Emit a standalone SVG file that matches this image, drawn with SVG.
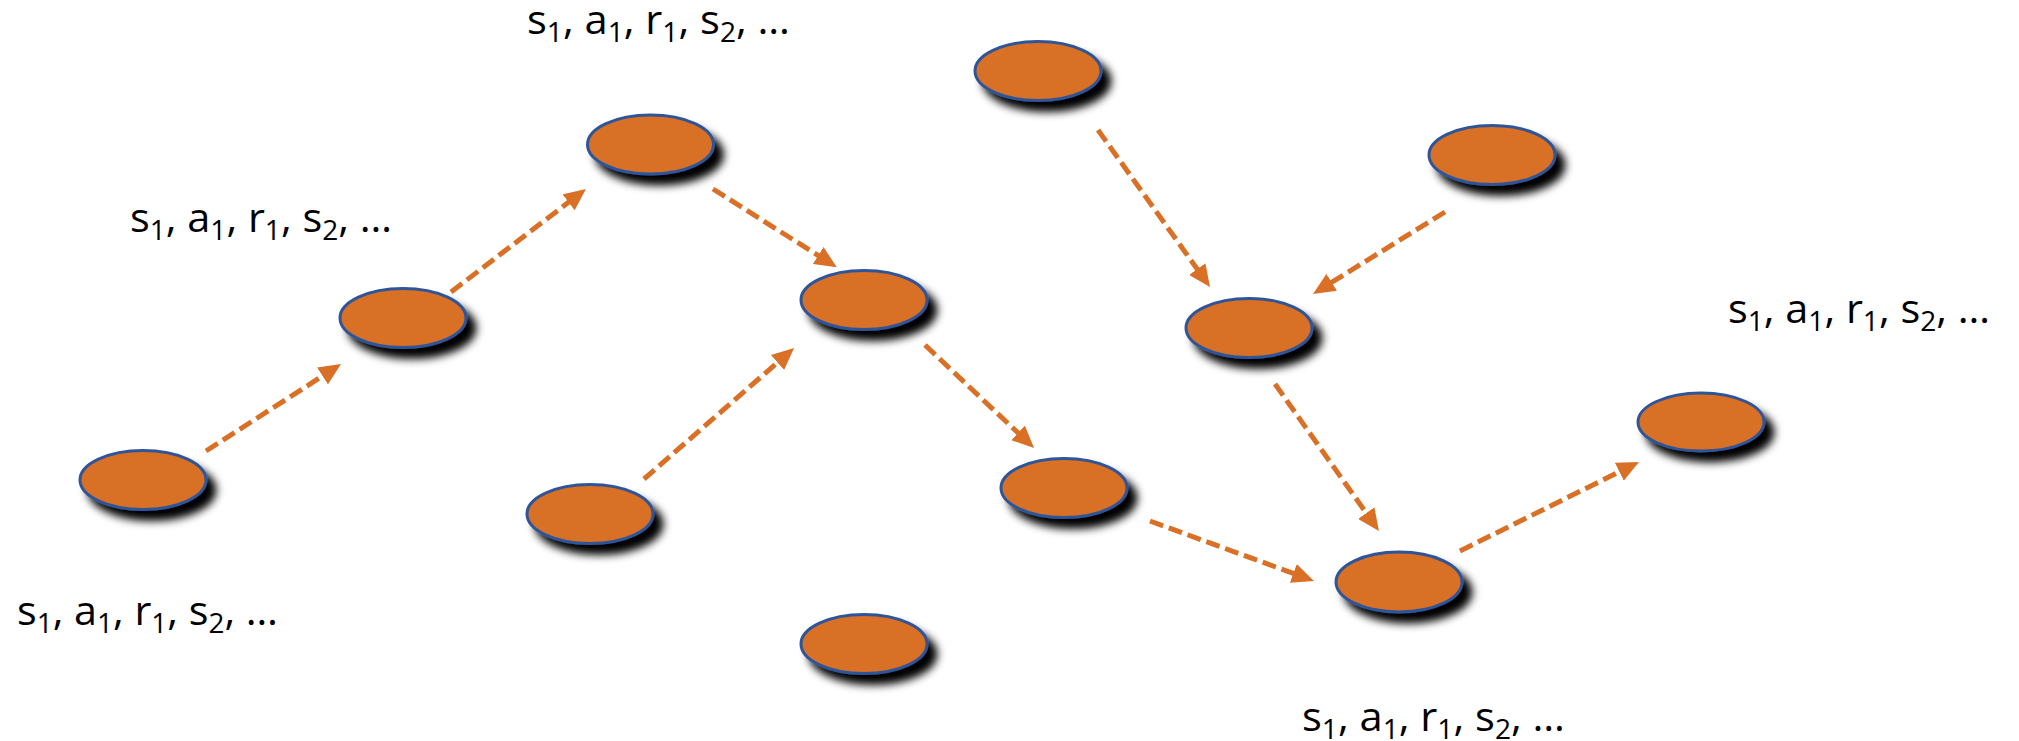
<svg xmlns="http://www.w3.org/2000/svg" width="2019" height="741" viewBox="0 0 2019 741">
<style>
.node{fill:#D86F27;stroke:#2F5597;stroke-width:3;filter:url(#sh)}
.edge{fill:none;stroke:#DA7026;stroke-width:5;stroke-dasharray:14 6;marker-end:url(#ah)}
.lbl{font-family:"Open Sans","Liberation Sans",sans-serif;font-size:40px;fill:#000}
.sb{font-size:27px}
</style>
<defs>
<filter id="sh" x="-30%" y="-40%" width="170%" height="200%">
<feGaussianBlur in="SourceAlpha" stdDeviation="4.5"/>
<feOffset dx="9" dy="10" result="b"/>
<feMerge><feMergeNode in="b"/><feMergeNode in="SourceGraphic"/></feMerge>
</filter>
<marker id="ah" markerUnits="userSpaceOnUse" markerWidth="22" markerHeight="20" viewBox="0 0 22 20" refX="2" refY="10" orient="auto">
<path d="M0,0 L22,10 L0,20 z" fill="#DA7026"/>
</marker>
</defs>
<rect width="2019" height="741" fill="#fff"/>
<g id="connectors">
<line class="edge" x1="206" y1="451" x2="324.2" y2="374.9"/>
<line class="edge" x1="451" y1="292" x2="570.1" y2="201.1"/>
<line class="edge" x1="713" y1="189" x2="819.9" y2="256.6"/>
<line class="edge" x1="644" y1="479" x2="779" y2="361.2"/>
<line class="edge" x1="925" y1="345" x2="1019.5" y2="434.3"/>
<line class="edge" x1="1150" y1="521" x2="1295.2" y2="574.1"/>
<line class="edge" x1="1098" y1="130" x2="1198.4" y2="270.7"/>
<line class="edge" x1="1445" y1="212" x2="1330" y2="283.4"/>
<line class="edge" x1="1275" y1="384" x2="1367.4" y2="514.7"/>
<line class="edge" x1="1460" y1="551" x2="1621.1" y2="470.9"/>
</g>
<g id="n1"><ellipse class="node" cx="143" cy="480" rx="63" ry="29.5"/></g>
<g id="n2"><ellipse class="node" cx="403" cy="318" rx="63" ry="29.5"/></g>
<g id="n3"><ellipse class="node" cx="650.5" cy="144.5" rx="63" ry="29.5"/></g>
<g id="n4"><ellipse class="node" cx="864" cy="300" rx="63" ry="29.5"/></g>
<g id="n5"><ellipse class="node" cx="590" cy="514" rx="63" ry="29.5"/></g>
<g id="n6"><ellipse class="node" cx="1064" cy="488" rx="63" ry="29.5"/></g>
<g id="n7"><ellipse class="node" cx="864" cy="644" rx="63" ry="29.5"/></g>
<g id="n8"><ellipse class="node" cx="1038" cy="71" rx="63" ry="29.5"/></g>
<g id="n9"><ellipse class="node" cx="1492" cy="155" rx="63" ry="29.5"/></g>
<g id="n10"><ellipse class="node" cx="1249" cy="328" rx="63" ry="29.5"/></g>
<g id="n11"><ellipse class="node" cx="1701" cy="422" rx="63" ry="29"/></g>
<g id="n12"><ellipse class="node" cx="1399" cy="582" rx="63" ry="30"/></g>
<g id="labels">
<text class="lbl" x="527" y="34" textLength="263" lengthAdjust="spacingAndGlyphs">s<tspan class="sb" dy="8">1</tspan><tspan dy="-8">, a</tspan><tspan class="sb" dy="8">1</tspan><tspan dy="-8">, r</tspan><tspan class="sb" dy="8">1</tspan><tspan dy="-8">, s</tspan><tspan class="sb" dy="8">2</tspan><tspan dy="-8">, …</tspan></text>
<text class="lbl" x="130" y="232" textLength="262" lengthAdjust="spacingAndGlyphs">s<tspan class="sb" dy="8">1</tspan><tspan dy="-8">, a</tspan><tspan class="sb" dy="8">1</tspan><tspan dy="-8">, r</tspan><tspan class="sb" dy="8">1</tspan><tspan dy="-8">, s</tspan><tspan class="sb" dy="8">2</tspan><tspan dy="-8">, …</tspan></text>
<text class="lbl" x="17" y="625" textLength="261" lengthAdjust="spacingAndGlyphs">s<tspan class="sb" dy="8">1</tspan><tspan dy="-8">, a</tspan><tspan class="sb" dy="8">1</tspan><tspan dy="-8">, r</tspan><tspan class="sb" dy="8">1</tspan><tspan dy="-8">, s</tspan><tspan class="sb" dy="8">2</tspan><tspan dy="-8">, …</tspan></text>
<text class="lbl" x="1302" y="731" textLength="263" lengthAdjust="spacingAndGlyphs">s<tspan class="sb" dy="8">1</tspan><tspan dy="-8">, a</tspan><tspan class="sb" dy="8">1</tspan><tspan dy="-8">, r</tspan><tspan class="sb" dy="8">1</tspan><tspan dy="-8">, s</tspan><tspan class="sb" dy="8">2</tspan><tspan dy="-8">, …</tspan></text>
<text class="lbl" x="1728" y="323" textLength="262" lengthAdjust="spacingAndGlyphs">s<tspan class="sb" dy="8">1</tspan><tspan dy="-8">, a</tspan><tspan class="sb" dy="8">1</tspan><tspan dy="-8">, r</tspan><tspan class="sb" dy="8">1</tspan><tspan dy="-8">, s</tspan><tspan class="sb" dy="8">2</tspan><tspan dy="-8">, …</tspan></text>
</g>
</svg>
